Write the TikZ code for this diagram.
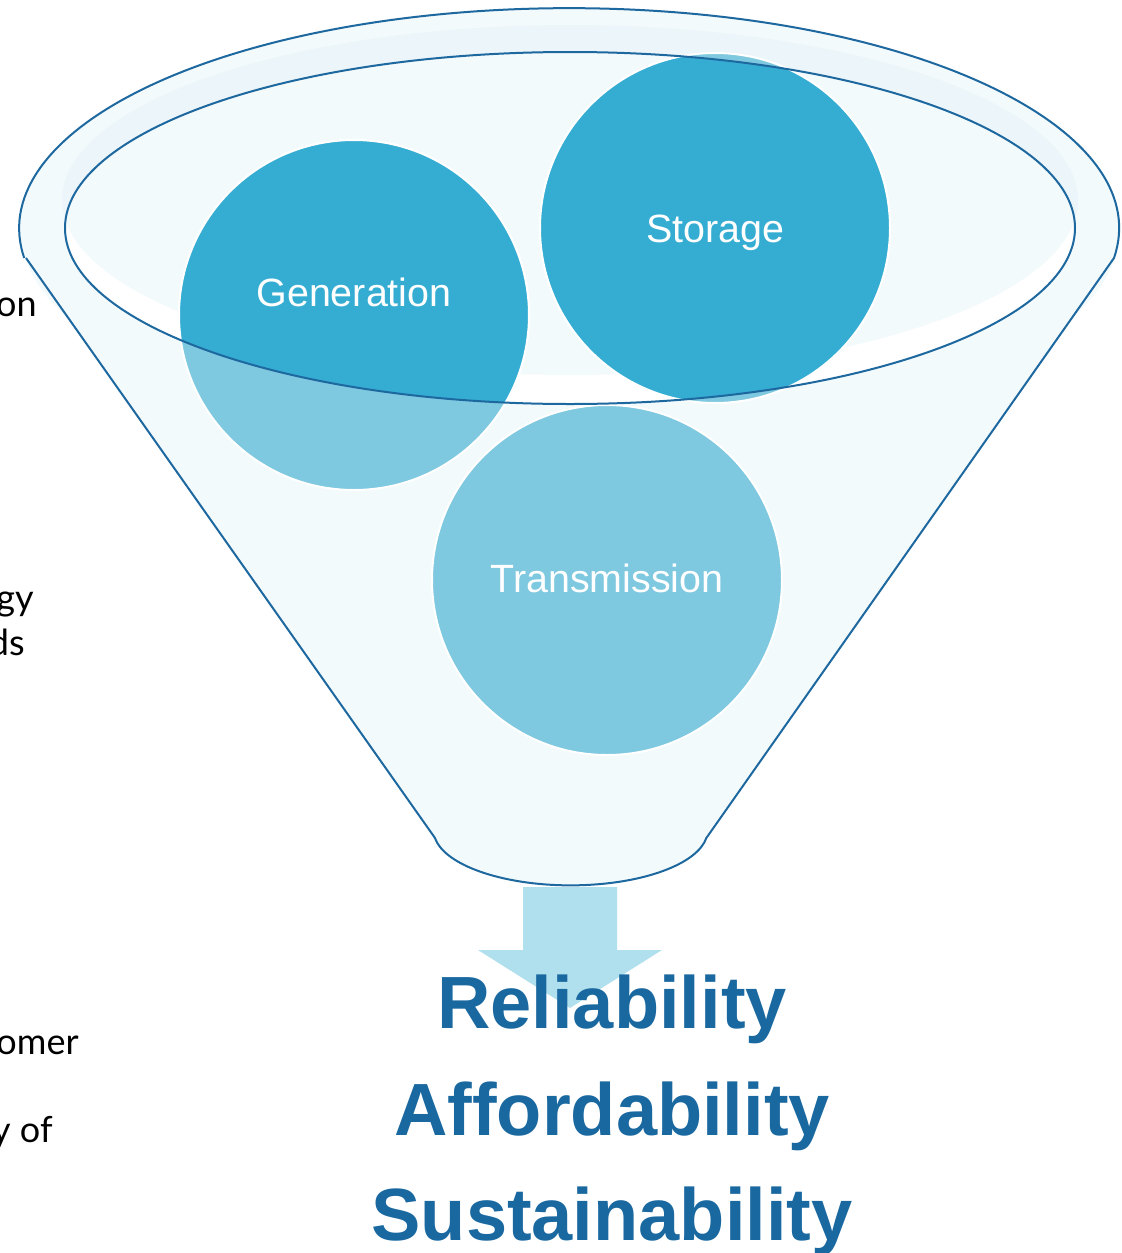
\documentclass[tikz,border=0pt]{standalone}
\usepackage{fontspec}
\setmainfont{Liberation Sans}
\newfontfamily\sidefont{Lato}
\definecolor{rimline}{RGB}{30,104,160}
\definecolor{funnelfill}{RGB}{243,250,252}
\definecolor{rimshade}{RGB}{236,245,249}
\definecolor{balldark}{RGB}{53,173,211}
\definecolor{balllight}{RGB}{126,200,224}
\definecolor{arrowfill}{RGB}{176,224,238}
\definecolor{goaltext}{RGB}{26,104,160}
\usetikzlibrary{positioning}

\begin{document}
\begin{tikzpicture}[x=0.5pt,y=-0.5pt,
    rim/.style={draw=rimline,line width=1pt},
    ball/.style={draw=white,line width=1pt},
    balltext/.style={text=white,inner sep=0pt,anchor=base,font=\fontsize{19.7}{24}\selectfont},
    goal/.style={text=goaltext,inner sep=0pt,anchor=base,font=\fontsize{37}{44}\selectfont\bfseries},
    side/.style={inner sep=0pt,anchor=base east,font=\sidefont\fontsize{18}{22}\selectfont}
    ]
    \useasboundingbox (0,0) rectangle (1122,1253);

    \coordinate (gen) at (354,315);
    \coordinate (sto) at (715,228);
    \coordinate (tra) at (607,580);

    % funnel body
    \fill[funnelfill] (570,228) ellipse [x radius=550, y radius=220];
    \fill[funnelfill] (26,258) -- (435,838)
        arc [start angle=172, end angle=8, x radius=137, y radius=55]
        -- (1114,258) -- cycle;
    \fill[rimshade] (570,200) ellipse [x radius=508, y radius=175];
    \fill[white] (570,228) ellipse [x radius=505, y radius=176];
    \begin{scope}
        \clip (570,228) ellipse [x radius=505, y radius=176];
        \fill[funnelfill] (570,200) ellipse [x radius=508, y radius=175];
    \end{scope}

    % the balls
    \foreach \b in {gen,sto,tra}
        \filldraw[ball,fill=balllight] (\b) circle [radius=175];
    \begin{scope}
        \clip (570,228) ellipse [x radius=505, y radius=176];
        \foreach \b in {gen,sto}
            \filldraw[ball,fill=balldark] (\b) circle [radius=175];
    \end{scope}

    % outlines
    \draw[rim] (26,258) -- (435,838)
        arc [start angle=172, end angle=8, x radius=137, y radius=55]
        -- (1114,258)
        arc [start angle=7.8, end angle=-187.8, x radius=550, y radius=220];
    \draw[rim] (570,228) ellipse [x radius=505, y radius=176];

    \node (genlabel) [balltext] at (354,306) {Generation};
    \node (stolabel) [balltext] at (715,242) {Storage};
    \node (tralabel) [balltext] at (607,592) {Transmission};

    % arrow out of the funnel
    \fill[arrowfill] (523,887) -- (617,887) -- (617,950) -- (662,950)
        -- (570,1008) -- (478,950) -- (523,950) -- cycle;

    \node (rel) [goal] at (612,1028) {Reliability};
    \node (aff) [goal] at (612,1135) {Affordability};
    \node (sus) [goal] at (612,1240) {Sustainability};

    % cut-off text on the left
    \node (s1) [side] at (37,316) {on};
    \node (s2) [side] at (34,610) {gy};
    \node (s3) [side] at (25,655) {ds};
    \node (s4) [side] at (79,1054) {omer};
    \node (s5) [side] at (53,1142) {y of};
\end{tikzpicture}
\end{document}
